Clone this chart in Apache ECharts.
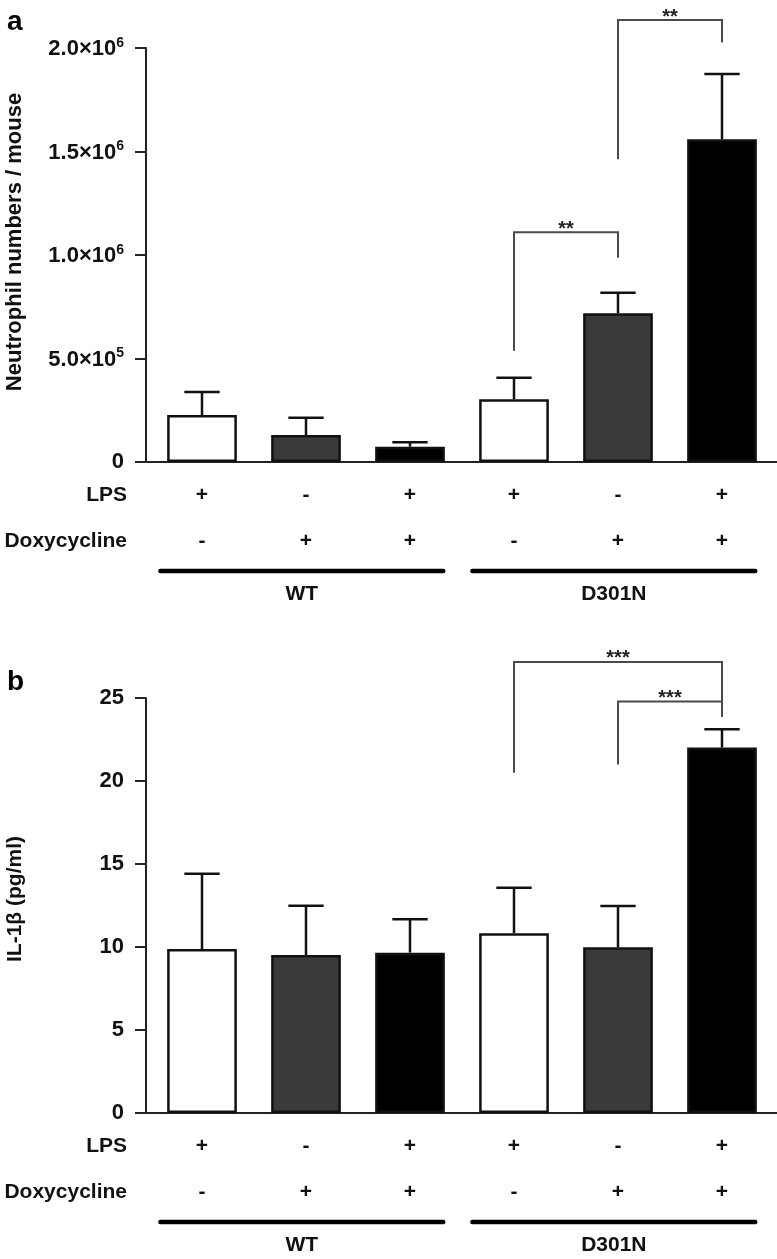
<!DOCTYPE html>
<html>
<head>
<meta charset="utf-8">
<script src="https://cdn.jsdelivr.net/npm/echarts@6/dist/echarts.min.js"></script>
<style>html,body{margin:0;padding:0;background:#fff}#c{width:777px;height:1259px}</style>
</head>
<body>
<div id="c"></div>
<script>
// ---------- data ----------
const categories = ['WT LPS', 'WT Doxy', 'WT LPS+Doxy', 'D301N LPS', 'D301N Doxy', 'D301N LPS+Doxy'];
const lpsRow = ['+', '-', '+', '+', '-', '+'];
const doxyRow = ['-', '+', '+', '-', '+', '+'];
const groupNames = ['WT', 'D301N'];
const groupStart = [0, 3];
const groupEnd = [2, 5];

const neutroMean = [227000, 130000, 74000, 303000, 718000, 1559000];
const neutroErr = [111000, 84000, 22000, 104000, 100000, 315000];
const neutroTicks = ['0', '5.0×10^5', '1.0×10^6', '1.5×10^6', '2.0×10^6'];
const neutroBrackets = [
  // [fromIdx, toIdx, leftEndY, topY, rightEndY]
  [3, 4, 538000, 1110000, 987000],
  [4, 5, 1462000, 2135000, 2026000]
];
const neutroStars = ['**', '**'];

const il1bMean = [9.88, 9.52, 9.66, 10.83, 9.98, 22.02];
const il1bErr = [4.54, 2.97, 2.01, 2.74, 2.49, 1.10];
const il1bTicks = ['0', '5', '10', '15', '20', '25'];
const il1bBrackets = [
  [3, 5, 20.49, 27.17, 23.86],
  [4, 5, 21.0, 24.79, 23.86]
];
const il1bStars = ['***', '***'];

// ---------- styles ----------
const barFills = ['#ffffff', '#3a3a3a', '#000000', '#ffffff', '#3a3a3a', '#000000'];
const FONT = 'Liberation Sans, Arial, Helvetica, sans-serif';
const INK = '#111';

const chart = echarts.init(document.getElementById('c'), null, {renderer: 'canvas'});

function tickFormatter(labels) {
  return function (v, i) {
    const s = labels[i];
    if (s === undefined) return '';
    const p = s.split('^');
    if (p.length === 2) return '{b|' + p[0] + '}{s|' + p[1] + '}';
    return '{b|' + s + '}';
  };
}

function makeXAxis(gi) {
  return {
    type: 'category', gridIndex: gi, data: categories,
    axisLine: {lineStyle: {color: '#222', width: 2}},
    axisTick: {show: false},
    axisLabel: {
      interval: 0, margin: 10,
      formatter: function (v, i) { return '{r|' + lpsRow[i] + '}\n{r|' + doxyRow[i] + '}'; },
      rich: {r: {fontFamily: FONT, fontSize: 21, fontWeight: 'bold', color: INK, lineHeight: 46}}
    }
  };
}
function makeYAxis(gi, max, interval, labels) {
  return {
    type: 'value', gridIndex: gi, min: 0, max: max, interval: interval, offset: 4,
    axisLine: {show: true, lineStyle: {color: '#222', width: 2}},
    axisTick: {show: true, length: 11, lineStyle: {color: '#222', width: 2}},
    splitLine: {show: false},
    axisLabel: {
      margin: 22, formatter: tickFormatter(labels),
      rich: {
        b: {fontFamily: FONT, fontSize: 22, fontWeight: 'bold', color: INK, verticalAlign: 'bottom'},
        s: {fontFamily: FONT, fontSize: 14, fontWeight: 'bold', color: INK, verticalAlign: 'bottom', padding: [0, 0, 10, 0]}
      }
    }
  };
}

function barSeries(gi, means) {
  return {
    type: 'bar', xAxisIndex: gi, yAxisIndex: gi, barWidth: '67%',
    data: means.map(function (m, i) {
      return {value: m, itemStyle: {color: barFills[i], borderColor: '#111', borderWidth: 2.5}};
    }),
    z: 2, silent: true
  };
}

function errSeries(gi, means, errs) {
  return {
    type: 'custom', xAxisIndex: gi, yAxisIndex: gi, z: 3, silent: true, clip: false,
    data: means.map(function (m, i) { return [i, m, errs[i]]; }),
    renderItem: function (params, api) {
      const x = api.value(0), m = api.value(1), e = api.value(2);
      const b = api.coord([x, m]);
      const t = api.coord([x, m + e]);
      const half = api.size([1, 0])[0] * 0.17;
      const st = {stroke: '#111', lineWidth: 2.5};
      return {type: 'group', children: [
        {type: 'line', shape: {x1: b[0], y1: b[1], x2: t[0], y2: t[1]}, style: st},
        {type: 'line', shape: {x1: t[0] - half, y1: t[1], x2: t[0] + half, y2: t[1]}, style: st}
      ]};
    }
  };
}

function bracketSeries(gi, brackets, stars) {
  return {
    type: 'custom', xAxisIndex: gi, yAxisIndex: gi, z: 4, silent: true, clip: false,
    data: brackets,
    renderItem: function (params, api) {
      const a = api.value(0), b = api.value(1);
      const pL = api.coord([a, api.value(2)]);
      const pT = api.coord([a, api.value(3)]);
      const pR = api.coord([b, api.value(4)]);
      const pT2 = api.coord([b, api.value(3)]);
      const st = {stroke: '#4a4a4a', lineWidth: 2, fill: null};
      return {type: 'group', children: [
        {type: 'polyline', shape: {points: [[pL[0], pL[1]], [pL[0], pT[1]], [pT2[0], pT[1]], [pR[0], pR[1]]]}, style: st},
        {type: 'text', style: {text: stars[params.dataIndex], x: (pL[0] + pT2[0]) / 2, y: pT[1] - 3,
          textAlign: 'center', textVerticalAlign: 'middle', fontFamily: FONT, fontSize: 20, fontWeight: 'bold', fill: '#222'}}
      ]};
    }
  };
}

function groupSeries(gi) {
  return {
    type: 'custom', xAxisIndex: gi, yAxisIndex: gi, z: 4, silent: true, clip: false,
    data: groupStart.map(function (s, i) { return [s, 0, groupEnd[i]]; }),
    renderItem: function (params, api) {
      const c0 = api.coord([api.value(0), 0]);
      const c1 = api.coord([api.value(2), 0]);
      const band = api.size([1, 0])[0];
      const x1 = c0[0] - 0.40 * band, x2 = c1[0] + 0.32 * band;
      const y = c0[1] + 109;
      return {type: 'group', children: [
        {type: 'line', shape: {x1: x1, y1: y, x2: x2, y2: y}, style: {stroke: '#000', lineWidth: 4.5, lineCap: 'round'}},
        {type: 'text', style: {text: groupNames[params.dataIndex], x: (x1 + x2) / 2, y: y + 23,
          textAlign: 'center', textVerticalAlign: 'middle', fontFamily: FONT, fontSize: 21, fontWeight: 'bold', fill: INK}}
      ]};
    }
  };
}

const gridA = {left: 150, right: 3, top: 48, height: 414};
const gridB = {left: 150, right: 3, top: 698, height: 415};
const axisYA = gridA.top + gridA.height;
const axisYB = gridB.top + gridB.height;

function rowTitles(axisY) {
  return [
    {type: 'text', x: 127, y: axisY + 33, style: {text: 'LPS', textAlign: 'right', textVerticalAlign: 'middle', fontFamily: FONT, fontSize: 21, fontWeight: 'bold', fill: INK}},
    {type: 'text', x: 127, y: axisY + 79, style: {text: 'Doxycycline', textAlign: 'right', textVerticalAlign: 'middle', fontFamily: FONT, fontSize: 21, fontWeight: 'bold', fill: INK}},
    {type: 'line', shape: {x1: 135, y1: axisY, x2: 777, y2: axisY}, style: {stroke: '#222', lineWidth: 2}}
  ];
}

chart.setOption({
  animation: false,
  backgroundColor: '#fff',
  grid: [gridA, gridB],
  xAxis: [makeXAxis(0), makeXAxis(1)],
  yAxis: [makeYAxis(0, 2000000, 500000, neutroTicks), makeYAxis(1, 25, 5, il1bTicks)],
  series: [
    barSeries(0, neutroMean), errSeries(0, neutroMean, neutroErr), bracketSeries(0, neutroBrackets, neutroStars), groupSeries(0),
    barSeries(1, il1bMean), errSeries(1, il1bMean, il1bErr), bracketSeries(1, il1bBrackets, il1bStars), groupSeries(1)
  ],
  graphic: [
    {type: 'text', x: 7, y: 22, style: {text: 'a', textVerticalAlign: 'middle', fontFamily: FONT, fontSize: 28, fontWeight: 'bold', fill: '#000'}},
    {type: 'text', x: 7, y: 682, style: {text: 'b', textVerticalAlign: 'middle', fontFamily: FONT, fontSize: 28, fontWeight: 'bold', fill: '#000'}},
    {type: 'text', x: 15, y: 242, rotation: Math.PI / 2, style: {text: 'Neutrophil numbers / mouse', textAlign: 'center', textVerticalAlign: 'middle', fontFamily: FONT, fontSize: 22, fontWeight: 'bold', fill: INK}},
    {type: 'text', x: 15, y: 899, rotation: Math.PI / 2, style: {text: 'IL-1β (pg/ml)', textAlign: 'center', textVerticalAlign: 'middle', fontFamily: FONT, fontSize: 21, fontWeight: 'bold', fill: INK}}
  ].concat(rowTitles(axisYA), rowTitles(axisYB))
});
</script>
</body>
</html>
